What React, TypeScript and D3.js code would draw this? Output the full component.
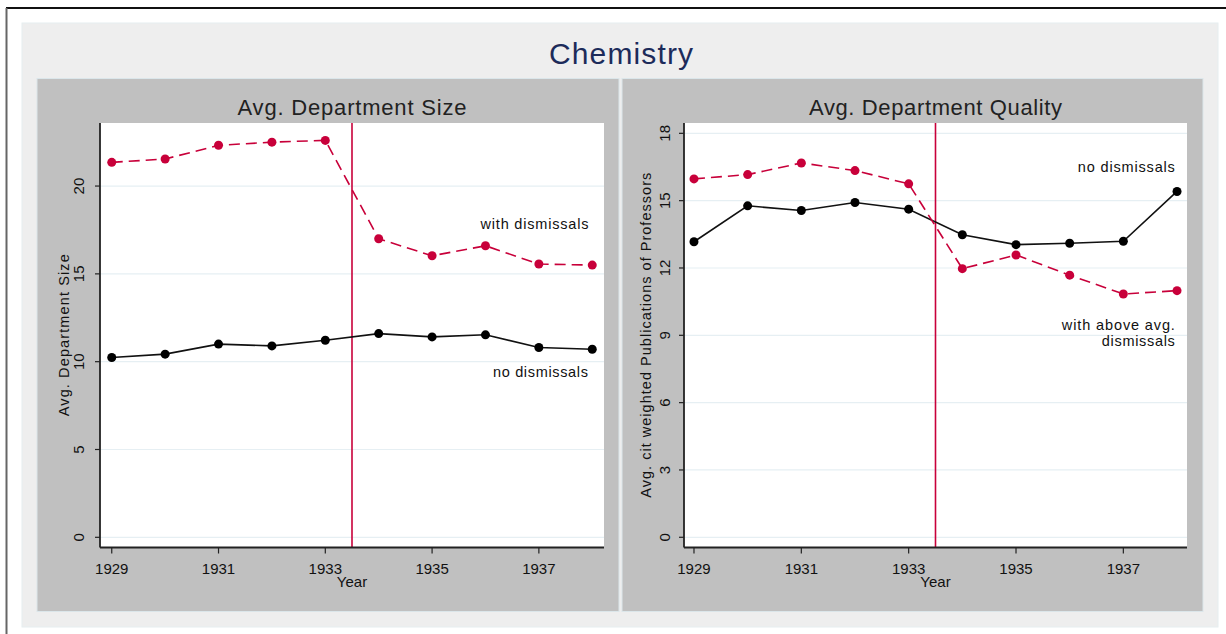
import React from "react";
import * as d3 from "d3";

const years = [1929, 1930, 1931, 1932, 1933, 1934, 1935, 1936, 1937, 1938];
const sizeWithDismissals = [21.35, 21.54, 22.32, 22.5, 22.6, 17.0, 16.03, 16.6, 15.56, 15.5];
const sizeNoDismissals = [10.24, 10.43, 11.0, 10.9, 11.22, 11.6, 11.41, 11.53, 10.81, 10.71];
const qualityWithDismissals = [15.97, 16.16, 16.68, 16.34, 15.75, 11.97, 12.58, 11.68, 10.84, 10.99];
const qualityNoDismissals = [13.17, 14.77, 14.56, 14.92, 14.62, 13.48, 13.04, 13.1, 13.19, 15.41];
const xTickYears = [1929, 1931, 1933, 1935, 1937];
const sizeTicks = [0, 5, 10, 15, 20];
const qualityTicks = [0, 3, 6, 9, 12, 15, 18];
const treatmentYear = 1933.5;

const sizeLabels = [
  { text: "with dismissals", x: 1937.93, y: 17.55, len: 108 },
  { text: "no dismissals", x: 1937.92, y: 9.13, len: 95 },
];
const qualityLabels = [
  { text: "no dismissals", x: 1937.96, y: 16.28, len: 97 },
  { text: "with above avg.", x: 1937.96, y: 9.24, len: 113 },
  { text: "dismissals", x: 1937.96, y: 8.52, len: 73 },
];

const RED = "#c8003a";
const FONT = "'Liberation Sans', Arial, Helvetica, sans-serif";

type PanelProps = {
  title: string;
  titleLen: number;
  yTitle: string;
  yTitleLen: number;
  panel: { x0: number; x1: number; y0: number; y1: number };
  plot: { x0: number; x1: number; y0: number; y1: number };
  xDomain: [number, number];
  yDomain: [number, number];
  yTicks: number[];
  redSeries: number[];
  blackSeries: number[];
  labels: { text: string; x: number; y: number; len: number }[];
  yTitleX: number;
  yTickLabelX: number;
};

function Panel(p: PanelProps) {
  const x = d3.scaleLinear().domain(p.xDomain).range([p.plot.x0, p.plot.x1]);
  const y = d3.scaleLinear().domain(p.yDomain).range([p.plot.y1, p.plot.y0]);
  const line = d3
    .line<number>()
    .x((_, i) => x(years[i]))
    .y((d) => y(d));
  const cx = (p.plot.x0 + p.plot.x1) / 2;
  const cy = (p.plot.y0 + p.plot.y1) / 2;
  return (
    <g>
      <rect
        x={p.panel.x0}
        y={p.panel.y0}
        width={p.panel.x1 - p.panel.x0}
        height={p.panel.y1 - p.panel.y0}
        fill="#c0c0c0"
        stroke="#dbe6ea"
        strokeWidth={1}
      />
      <text
        x={cx}
        y={115}
        textAnchor="middle"
        fontFamily={FONT}
        fontSize={22}
        fill="#222"
        textLength={p.titleLen}
        lengthAdjust="spacing"
      >
        {p.title}
      </text>
      <rect
        x={p.plot.x0}
        y={p.plot.y0}
        width={p.plot.x1 - p.plot.x0}
        height={p.plot.y1 - p.plot.y0}
        fill="#ffffff"
      />
      {p.yTicks.map((t) => (
        <line
          key={"g" + t}
          x1={p.plot.x0}
          x2={p.plot.x1}
          y1={y(t)}
          y2={y(t)}
          stroke="#e6eff3"
          strokeWidth={1.2}
        />
      ))}
      <line
        x1={x(treatmentYear)}
        x2={x(treatmentYear)}
        y1={p.plot.y0}
        y2={p.plot.y1}
        stroke={RED}
        strokeWidth={1.6}
      />
      <path d={line(p.blackSeries) || ""} fill="none" stroke="#111" strokeWidth={1.6} />
      <path
        d={line(p.redSeries) || ""}
        fill="none"
        stroke={RED}
        strokeWidth={1.6}
        strokeDasharray="11,6"
      />
      {p.blackSeries.map((v, i) => (
        <circle key={"b" + i} cx={x(years[i])} cy={y(v)} r={4.5} fill="#000" />
      ))}
      {p.redSeries.map((v, i) => (
        <circle key={"r" + i} cx={x(years[i])} cy={y(v)} r={4.5} fill={RED} />
      ))}
      <line x1={p.plot.x0} x2={p.plot.x0} y1={p.plot.y0} y2={p.plot.y1} stroke="#222" strokeWidth={1.8} />
      <line x1={p.plot.x0} x2={p.plot.x1} y1={p.plot.y1} y2={p.plot.y1} stroke="#222" strokeWidth={1.8} />
      {p.yTicks.map((t) => (
        <g key={"yt" + t}>
          <line x1={p.plot.x0 - 5} x2={p.plot.x0} y1={y(t)} y2={y(t)} stroke="#222" strokeWidth={1.2} />
          <text
            transform={`translate(${p.yTickLabelX},${y(t)}) rotate(-90)`}
            textAnchor="middle"
            fontFamily={FONT}
            fontSize={15}
            fill="#111"
          >
            {t}
          </text>
        </g>
      ))}
      {xTickYears.map((t) => (
        <g key={"xt" + t}>
          <line x1={x(t)} x2={x(t)} y1={p.plot.y1} y2={p.plot.y1 + 6} stroke="#222" strokeWidth={1.2} />
          <text x={x(t)} y={574} textAnchor="middle" fontFamily={FONT} fontSize={15} fill="#111">
            {t}
          </text>
        </g>
      ))}
      <text x={cx} y={586.5} textAnchor="middle" fontFamily={FONT} fontSize={15} fill="#111">
        Year
      </text>
      <text
        transform={`translate(${p.yTitleX},${cy}) rotate(-90)`}
        textAnchor="middle"
        fontFamily={FONT}
        fontSize={14.5}
        fill="#111"
        textLength={p.yTitleLen}
        lengthAdjust="spacing"
      >
        {p.yTitle}
      </text>
      {p.labels.map((l, i) => (
        <text
          key={"l" + i}
          x={x(l.x)}
          y={y(l.y)}
          textAnchor="end"
          fontFamily={FONT}
          fontSize={14.5}
          fill="#111"
          textLength={l.len}
          lengthAdjust="spacing"
        >
          {l.text}
        </text>
      ))}
    </g>
  );
}

export default function App() {
  const W = 1226;
  const H = 634;
  return (
    <svg
      width={W}
      height={H}
      style={{ position: "absolute", left: 0, top: 0, background: "#fff" }}
    >
      <rect x={0} y={0} width={W} height={H} fill="#ffffff" />
      <line x1={6} x2={W} y1={8} y2={8} stroke="#111" strokeWidth={2} />
      <line x1={6.5} x2={6.5} y1={8} y2={H} stroke="#666" strokeWidth={2} />
      <rect x={22} y={23} width={1196} height={604} fill="#eeeeee" stroke="#e6eef0" strokeWidth={1} />
      <text
        x={621}
        y={64}
        textAnchor="middle"
        fontFamily={FONT}
        fontSize={30}
        fill="#1c2b5a"
        textLength={144}
        lengthAdjust="spacing"
      >
        Chemistry
      </text>
      <Panel
        title="Avg. Department Size"
        titleLen={229}
        yTitle="Avg. Department Size"
        yTitleLen={162}
        panel={{ x0: 37, x1: 619, y0: 78.5, y1: 611.5 }}
        plot={{ x0: 100, x1: 604, y0: 123, y1: 547.5 }}
        xDomain={[1928.78, 1938.22]}
        yDomain={[-0.58, 23.59]}
        yTicks={sizeTicks}
        redSeries={sizeWithDismissals}
        blackSeries={sizeNoDismissals}
        labels={sizeLabels}
        yTitleX={69}
        yTickLabelX={84}
      />
      <Panel
        title="Avg. Department Quality"
        titleLen={253}
        yTitle="Avg. cit weighted Publications of Professors"
        yTitleLen={325}
        panel={{ x0: 622, x1: 1203, y0: 78.5, y1: 611.5 }}
        plot={{ x0: 684, x1: 1187, y0: 123, y1: 547.5 }}
        xDomain={[1928.814, 1938.186]}
        yDomain={[-0.455, 18.46]}
        yTicks={qualityTicks}
        redSeries={qualityWithDismissals}
        blackSeries={qualityNoDismissals}
        labels={qualityLabels}
        yTitleX={651}
        yTickLabelX={670}
      />
    </svg>
  );
}
